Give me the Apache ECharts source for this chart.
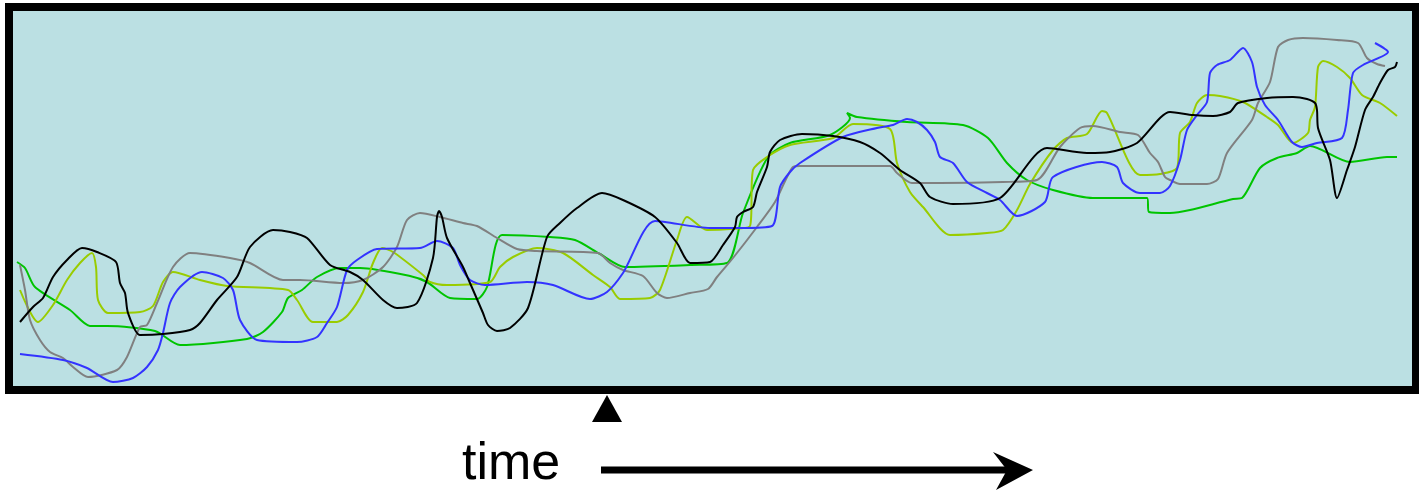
<!DOCTYPE html>
<html>
<head>
<meta charset="utf-8">
<script src="https://cdn.jsdelivr.net/npm/echarts@6/dist/echarts.min.js"></script>
<style>html,body{margin:0;padding:0;background:#fff;}#c{width:1419px;height:493px;}</style>
</head>
<body>
<div id="c"></div>
<script>
const blackLine = [[20,322],[33,307],[43,298],[53,277],[67,260],[82,248],[97,252],[116,262],[120,283],[125,293],[128,313],[140,335],[163,334],[190,330],[200,323],[217,300],[237,277],[250,247],[273,230],[290,232],[307,238],[330,265],[350,272],[363,280],[383,300],[397,308],[417,303],[433,258],[437,217],[439,211],[442,217],[447,238],[463,267],[470,283],[483,313],[488,325],[497,331],[510,328],[528,308],[547,237],[560,223],[577,208],[602,193],[623,200],[655,217],[677,243],[690,263],[710,262],[723,245],[735,227],[737,217],[743,212],[753,207],[757,192],[767,167],[770,152],[780,140],[802,134],[833,136],[860,142],[880,153],[900,170],[920,183],[930,197],[953,204],[1000,198],[1047,148],[1087,153],[1110,152],[1137,143],[1170,112],[1193,115],[1213,116],[1230,112],[1238,103],[1267,98],[1293,97],[1307,99],[1315,103],[1317,110],[1318,128],[1330,160],[1337,198],[1347,170],[1355,147],[1365,110],[1373,97],[1380,83],[1388,70],[1395,67],[1397,62]];
const grayLine = [[20,265],[25,290],[30,320],[40,340],[50,352],[63,358],[73,367],[88,377],[117,370],[127,357],[140,327],[147,325],[157,303],[173,267],[190,253],[230,258],[250,263],[283,280],[300,280],[343,283],[363,280],[383,267],[397,247],[407,220],[420,213],[440,217],[463,223],[477,226],[497,238],[517,249],[537,251],[598,253],[610,263],[623,270],[643,276],[657,293],[667,298],[690,293],[708,289],[717,277],[733,258],[757,227],[775,202],[793,167],[800,166],[890,166],[897,173],[912,183],[940,183],[1003,182],[1037,180],[1060,147],[1080,128],[1093,126],[1120,132],[1138,135],[1150,153],[1158,162],[1165,177],[1170,180],[1180,184],[1207,184],[1218,179],[1227,153],[1252,120],[1258,103],[1270,82],[1278,47],[1288,40],[1303,38],[1337,40],[1358,43],[1367,58],[1377,64],[1385,66]];
const blueLine = [[20,354],[63,360],[87,368],[113,382],[133,378],[147,367],[158,350],[163,333],[170,303],[180,287],[202,272],[223,278],[233,290],[240,320],[257,340],[297,342],[317,337],[327,323],[337,307],[347,270],[357,260],[377,249],[420,248],[437,241],[453,248],[460,265],[470,280],[485,285],[527,282],[553,285],[590,299],[607,292],[623,273],[655,221],[710,228],[740,228],[772,226],[780,187],[790,172],[800,163],[843,137],[877,128],[893,125],[907,119],[917,122],[927,130],[935,142],[940,157],[953,163],[967,182],[987,193],[1000,200],[1017,216],[1045,202],[1053,177],[1102,162],[1117,167],[1123,183],[1140,193],[1160,193],[1170,186],[1180,160],[1187,130],[1197,115],[1207,102],[1210,73],[1217,65],[1230,60],[1243,48],[1252,62],[1257,87],[1265,105],[1278,120],[1292,142],[1302,147],[1317,143],[1342,138],[1348,110],[1353,73],[1363,65],[1388,52],[1375,43]];
const greenLine = [[17,262],[25,268],[35,287],[70,310],[90,326],[107,326],[155,331],[180,345],[247,339],[263,332],[282,312],[288,298],[302,290],[317,277],[340,268],[360,268],[410,276],[427,282],[450,298],[477,299],[487,287],[502,235],[550,237],[575,240],[600,254],[625,267],[690,265],[727,263],[743,213],[768,157],[790,143],[830,135],[850,118],[847,113],[857,117],[907,122],[963,125],[988,138],[1007,163],[1027,180],[1053,190],[1093,198],[1147,198],[1149,212],[1170,213],[1190,210],[1233,199],[1242,198],[1260,168],[1277,158],[1297,153],[1310,146],[1350,162],[1387,157],[1397,157]];
const limeLine = [[20,290],[38,322],[53,305],[67,280],[80,263],[92,253],[96,267],[98,300],[108,313],[140,312],[153,306],[163,282],[173,272],[200,280],[227,286],[288,290],[297,300],[313,322],[337,322],[348,315],[363,292],[373,263],[382,248],[393,252],[423,275],[430,282],[447,285],[490,282],[500,267],[513,257],[537,248],[563,253],[593,275],[610,287],[620,299],[650,298],[660,290],[677,240],[687,217],[707,230],[730,229],[750,226],[753,170],[767,157],[790,145],[833,138],[853,124],[890,129],[897,163],[910,192],[923,207],[950,235],[987,233],[1003,230],[1017,210],[1030,184],[1053,150],[1067,138],[1087,134],[1102,111],[1107,113],[1140,175],[1160,174],[1177,168],[1180,133],[1190,122],[1197,103],[1207,95],[1220,96],[1243,102],[1267,117],[1278,125],[1293,143],[1308,133],[1310,120],[1315,107],[1318,67],[1323,61],[1337,67],[1350,78],[1362,95],[1380,103],[1397,116]];
const timeLabel = 'time';
const nowMark = 607;

const chart = echarts.init(document.getElementById('c'), null, {renderer: 'canvas'});
function mk(name, data, color) {
  return {name, type: 'line', data, symbol: 'none', smooth: 0.25, lineStyle: {color, width: 2}, itemStyle: {color}, silent: true};
}
chart.setOption({
  animation: false,
  backgroundColor: '#ffffff',
  grid: {left: 9, right: 3, top: 7, bottom: 103, show: true, backgroundColor: '#bbe0e3', borderColor: '#000000', borderWidth: 8},
  xAxis: {type: 'value', min: 9, max: 1416, show: false},
  yAxis: {type: 'value', min: 7, max: 390, inverse: true, show: false},
  series: [
    mk('green', greenLine, '#00c400'),
    mk('lime', limeLine, '#99cc00'),
    mk('gray', grayLine, '#808080'),
    mk('blue', blueLine, '#3333ff'),
    mk('black', blackLine, '#000000')
  ],
  graphic: [
    {type: 'polygon', shape: {points: [[nowMark, 395], [nowMark - 15, 422], [nowMark + 15, 422]]}, style: {fill: '#000'}},
    {type: 'text', left: 462, top: 439, style: {text: timeLabel, font: '52px "Liberation Sans", Arial, sans-serif', fill: '#000'}},
    {type: 'line', shape: {x1: 601, y1: 470, x2: 1010, y2: 470}, style: {stroke: '#000', lineWidth: 7}},
    {type: 'polygon', shape: {points: [[1033, 470], [993, 452], [1007, 470], [996, 490]]}, style: {fill: '#000'}}
  ]
});
</script>
</body>
</html>
